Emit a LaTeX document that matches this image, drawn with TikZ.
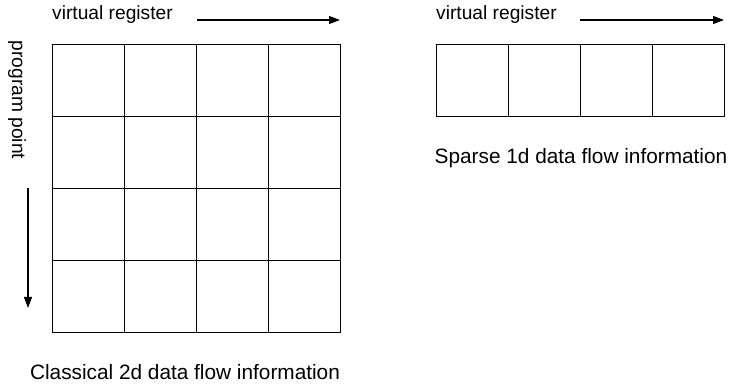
\documentclass[tikz,border=0pt]{standalone}
\usepackage{fontspec}
\setmainfont{Liberation Sans}
\usetikzlibrary{arrows.meta}

\begin{document}
\begin{tikzpicture}[x=1pt,y=-1pt]
\tikzstyle{every node}=[font=\fontsize{19.2}{22}\selectfont, inner sep=0pt]
\tikzstyle{cell}=[draw, line width=1.4pt, minimum size=72pt, anchor=north west]
\tikzstyle{dir}=[line width=1.2pt, -{Triangle[length=11pt,width=8pt]}]
\tikzstyle{caption}=[font=\fontsize{20.8}{24}\selectfont]
\useasboundingbox (0,0) rectangle (731,387);

% 2d grid
\foreach \r in {0,...,3}
  \foreach \c in {0,...,3}
    \node[cell] (full-\r-\c) at (52+72*\c, 44+72*\r) {};

% 1d row
\foreach \c in {0,...,3}
  \node[cell] (sparse-\c) at (436+72*\c, 44) {};

\node[anchor=west] (regA) at (52,15) {virtual register};
\node[anchor=west] (regB) at (436,15) {virtual register};
\node[rotate=-90] (point) at (17,100) {program point};

\coordinate (regA-s) at (197,20);
\coordinate (regA-e) at (340,20);
\coordinate (regB-s) at (580,20);
\coordinate (regB-e) at (724,20);
\coordinate (point-s) at (28,188);
\coordinate (point-e) at (28,308);
\draw[dir] (regA-s) -- (regA-e);
\draw[dir] (regB-s) -- (regB-e);
\draw[dir] (point-s) -- (point-e);

\node[caption] (classical) at (185,372) {Classical 2d data flow information};
\node[caption] (sparse) at (581,158) {Sparse 1d data flow information};
\end{tikzpicture}
\end{document}
